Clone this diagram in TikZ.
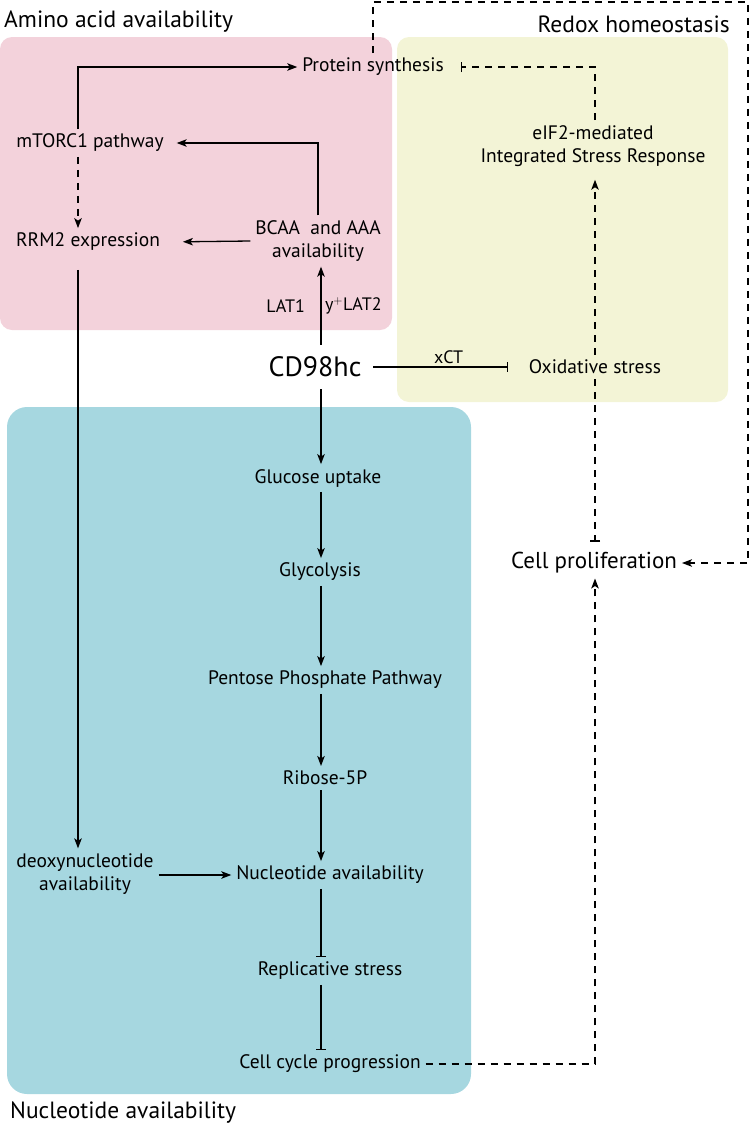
\documentclass[tikz,border=0pt]{standalone}
\usepackage{fontspec}
\setmainfont{PT Sans}
\usepackage{xcolor}
\usetikzlibrary{arrows.meta}
\definecolor{aminopink}{RGB}{243,210,219}
\definecolor{redoxyellow}{RGB}{243,244,214}
\definecolor{nuclblue}{RGB}{166,215,224}

\begin{document}
\begin{tikzpicture}[x=1pt,y=-1pt,
	lbl/.style={font=\fontsize{19.5}{23.5}\selectfont,inner sep=0pt,outer sep=5pt,align=center},
	boxtitle/.style={font=\fontsize{23.5}{27}\selectfont,inner sep=0pt},
	act/.style={line width=1.3pt,-{Stealth[length=10pt,width=7.5pt,inset=2.5pt]}},
	inh/.style={line width=1.3pt,-{Bar[width=10pt]}},
	dsh/.style={dash pattern=on 7pt off 6pt}]
					\useasboundingbox (0,0) rectangle (750,1128);
					% coloured regions
					\fill[aminopink,rounded corners=12pt] (0,37) rectangle (392,330);
					\fill[redoxyellow,rounded corners=12pt] (397,37) rectangle (728,402);
					\fill[nuclblue,rounded corners=20pt] (7,407) rectangle (471,1094);
					\node[boxtitle,anchor=west] (aminottl) at (4,22) {Amino acid availability};
					\node[boxtitle,anchor=east] (redoxttl) at (730,24) {Redox homeostasis};
					\node[boxtitle,anchor=west] (nuclttl) at (10,1113) {Nucleotide availability};
					% nodes
					\node[lbl] (prot) at (373,67) {Protein synthesis};
					\node[lbl] (mtor) at (90,143) {mTORC1 pathway};
					\node[lbl] (rrm) at (88,242) {RRM2 expression};
					\node[lbl] (bcaa) at (318,241) {BCAA\ \ and AAA\\availability};
					\node[lbl,font=\fontsize{28}{32}\selectfont,outer sep=12pt] (cd) at (315,367) {CD98hc};
					\node[lbl] (ox) at (595,367) {Oxidative stress};
					\node[lbl] (isr) at (593,146) {eIF2-mediated\\Integrated Stress Response};
					\node[lbl] (glc) at (318,478) {Glucose uptake};
					\node[lbl] (glyc) at (320,572) {Glycolysis};
					\node[lbl] (ppp) at (325,680) {Pentose Phosphate Pathway};
					\node[lbl] (rib) at (325,778) {Ribose-5P};
					\node[lbl] (deoxy) at (85,874) {deoxynucleotide\\availability};
					\node[lbl] (nucl) at (330,875) {Nucleotide availability};
					\node[lbl] (rep) at (330,971) {Replicative stress};
					\node[lbl] (ccp) at (330,1064) {Cell cycle progression};
					\node[lbl,font=\fontsize{23}{27}\selectfont] (prolif) at (594,563) {Cell proliferation};
					\coordinate (lx) at (78,0);
					\coordinate (cx) at (321,0);
					\coordinate (tr) at (748,2);
					% amino acids
					\draw[act] (mtor.north -| lx) |- (prot.west);
					\draw[act,shorten >=8pt] (bcaa.north) |- (mtor.east);
					\draw[act,shorten >=18pt] (bcaa.west) -- (rrm.east);
					\draw[act,dsh] (mtor.south -| lx) -- (rrm.north -| lx);
					\draw[act,shorten <=14pt] (rrm.south -| lx) -- (deoxy.north -| lx);
					\draw[act] (cd.north -| cx) -- (bcaa.south -| cx)
						node[midway,left=16pt,lbl,outer sep=0pt,font=\fontsize{18}{20}\selectfont] (lat) {LAT1}
						node[midway,right=4pt,lbl,outer sep=0pt,font=\fontsize{18}{20}\selectfont] (ylat) {y$^{+}$LAT2};
					% nucleotides
					\draw[act] (cd.south -| cx) -- (glc.north -| cx);
					\draw[act] (glc.south -| cx) -- (glyc.north -| cx);
					\draw[act] (glyc.south -| cx) -- (ppp.north -| cx);
					\draw[act] (ppp.south -| cx) -- (rib.north -| cx);
					\draw[act] (rib.south -| cx) -- (nucl.north -| cx);
					\draw[act] (deoxy.east |- nucl) -- (nucl.west);
					\draw[inh] (nucl.south -| cx) -- (rep.north -| cx);
					\draw[inh] (rep.south -| cx) -- (ccp.north -| cx);
					% redox
					\draw[inh,shorten >=16pt] (cd.east) -- (ox.west)
						node[midway,above=3pt,lbl,outer sep=0pt,font=\fontsize{18}{20}\selectfont] (xct) {xCT};
					\draw[act,dsh,shorten >=8pt] (ox.north) -- (ox.north |- isr.south);
					\draw[inh,dsh,shorten >=12pt] (isr.north -| ox.north) |- (prot.east);
					\draw[inh,dsh,shorten >=6pt] (ox.south) -- (ox.south |- prolif.north);
					\draw[act,dsh] (ccp.east) -| (ox.south |- prolif.south);
					\draw[act,dsh] (prot.north) |- (tr) |- (prolif.east);
				\end{tikzpicture}
\end{document}
